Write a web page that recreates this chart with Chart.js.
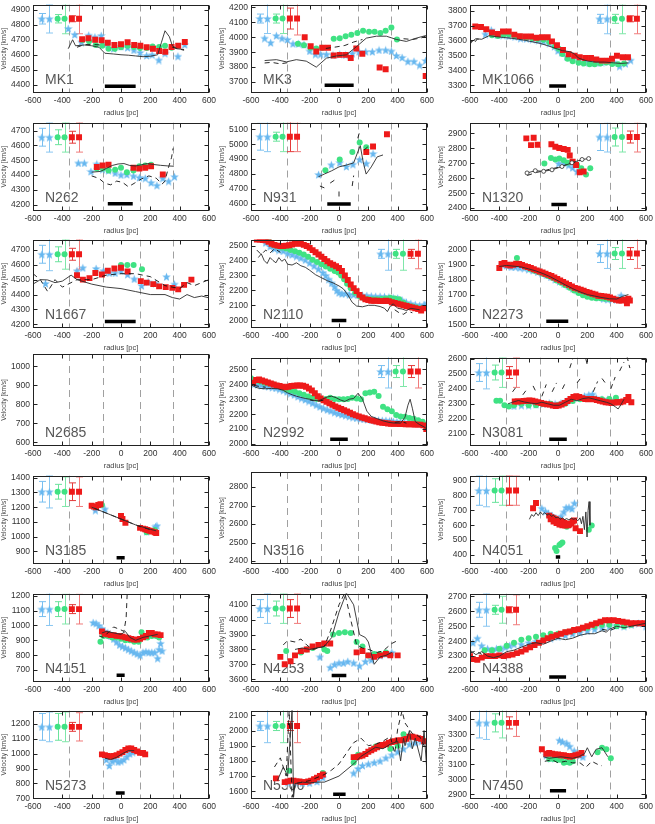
<!DOCTYPE html>
<html>
<head>
<meta charset="utf-8">
<script src="https://cdn.jsdelivr.net/npm/chart.js@4"></script>
<style>
  body { margin: 0; background: #fff; }
  #grid { position: relative; width: 655px; height: 824px; overflow: hidden; }
  #grid canvas { position: absolute; }
</style>
</head>
<body>
<div id="grid"></div>
<script>
// where the reference error bars sit (pc), left or right group
const errXLeft = [-540, -488, -432, -385, -335, -286];
const errXRight = [283, 334, 386, 436, 488, 538];
// grey dashed guides
const guideX = [-355, -125, 130, 355];

// ---- MK1
const mk1Blue = [[-360,4775],[-315,4735],[-270,4685],[-220,4730],[-178,4718],[-135,4728],[-95,4672],[-50,4642],[0,4655],[45,4648],[88,4632],[130,4615],[175,4595],[212,4600],[258,4565],[300,4610],[388,4590],[435,4668]];
const mk1Green = [[-262,4698],[-218,4690],[-172,4665],[-128,4660],[-85,4640],[-42,4640],[0,4650],[45,4660],[88,4652],[130,4645],[175,4645],[215,4655],[260,4652],[300,4660],[345,4647]];
const mk1Red = [[-265,4703],[-222,4710],[-176,4700],[-132,4697],[-90,4680],[-45,4665],[0,4670],[45,4683],[90,4665],[132,4660],[175,4650],[218,4640],[260,4625],[302,4620],[345,4652],[390,4660],[435,4685]];
const mk1Line = [[-360,4640],[-330,4700],[-310,4660],[-250,4665],[-200,4660],[-150,4650],[-110,4610],[-50,4605],[0,4600],[50,4597],[100,4592],[150,4587],[200,4590],[250,4600],[275,4680],[300,4760],[330,4720],[350,4660],[380,4640],[430,4635]];
const mk1Dash = [[-300,4650],[-250,4668],[-190,4668],[-130,4665],null,[350,4650],[390,4640],[430,4630]];
const mk1Bar = [-110, 100, 4390];
const mk1Err = [4840, 35, 95, 28, 100, 20, 100];

// ---- MK3
const mk3Blue = [[-507,3994],[-466,3964],[-427,4011],[-389,3994],[-352,3985],[-314,3957],[-275,3957],[-239,3951],[-200,3908],[-161,3887],[-125,3887],[-86,3887],[-41,3882],[5,3887],[45,3882],[91,3893],[136,3904],[182,3904],[227,3904],[273,3915],[318,3915],[357,3908],[391,3878],[430,3865],[470,3839],[511,3839],[550,3814],[591,3844]];
const mk3Green = [[-280,3957],[-239,3946],[-195,3930],[-155,3925],[-114,3930],[-36,3990],[5,3994],[45,4007],[84,4016],[125,4028],[164,4043],[205,4037],[243,4037],[282,4028],[318,4043],[357,4065],[395,3985]];
const mk3Red = [[-234,4000],[-193,3940],[-155,3904],[-114,3930],[-75,3930],[-36,3878],[5,3882],[45,3882],[80,3861],[118,3925],[159,3889],[277,3797],[318,3786],[591,3741]];
const mk3Line = [[-507,3844],[-427,3850],[-359,3835],[-291,3850],[-223,3840],[-155,3800],[-86,3860],[-18,3875],[50,3882],[118,3936],[186,3994],[255,4007],[323,4007],[391,3985],[459,3972],[527,3994],[591,4011]];
const mk3Dash = [[-507,3828],[-460,3832],[-400,3822],[-350,3830],null,[-90,3925],[-20,3935],[40,3945],[100,3968],[160,3985],null,[440,3990],[500,3985],[560,3995],[595,4010]];
const mk3Bar = [-98, 100, 3679];
const mk3Err = [4125, 30, 100, 30, 100, 70, 110];

// ---- MK1066
const mk1066Blue = [[-495,3643],[-455,3670],[-415,3638],[-375,3635],[-335,3630],[-295,3625],[-255,3615],[-215,3612],[-175,3608],[-135,3602],[-100,3595],[-60,3582],[-25,3560],[0,3532],[25,3520],[60,3492],[100,3480],[140,3470],[180,3455],[220,3452],[260,3450],[300,3455],[340,3458],[380,3455],[420,3428],[460,3445],[495,3468]];
const mk1066Green = [[-450,3635],[-410,3630],[-370,3640],[-335,3642],[-295,3632],[-255,3625],[-215,3620],[-175,3615],[-140,3610],[-100,3605],[-60,3590],[-20,3562],[5,3545],[30,3510],[65,3478],[100,3460],[140,3450],[175,3445],[215,3440],[250,3440],[290,3445],[330,3452],[370,3442],[410,3440],[450,3445]];
const mk1066Red = [[-564,3693],[-525,3690],[-489,3675],[-450,3654],[-411,3643],[-375,3660],[-336,3660],[-298,3639],[-261,3628],[-223,3626],[-184,3626],[-148,3618],[-109,3622],[-70,3622],[-41,3594],[-7,3568],[34,3536],[73,3508],[111,3497],[148,3487],[186,3482],[225,3482],[261,3472],[300,3465],[339,3465],[368,3478],[402,3497],[441,3487],[477,3487]];
const mk1066Line = [[-590,3590],[-560,3612],[-520,3608],[-470,3632],[-420,3625],[-370,3620],[-320,3615],[-270,3608],[-220,3600],[-170,3590],[-120,3580],[-70,3565],[-20,3548],[30,3532],[80,3525],[110,3512],[140,3482],[200,3462],[260,3455],[320,3455],[380,3450],[430,3446],[480,3450]];
const mk1066Dash = [[-600,3572],[-585,3600],[-570,3585],[-550,3610],[-520,3605]];
const mk1066Bar = [-60, 55, 3295];
const mk1066Err = [3745, 30, 100, 30, 100, 20, 100];

// ---- N262
const n262Blue = [[-291,4482],[-250,4482],[-205,4425],[-165,4475],[-125,4440],[-85,4432],[-40,4415],[0,4402],[40,4405],[85,4395],[125,4385],[165,4380],[205,4350],[245,4332],[285,4380],[325,4360],[365,4390]];
const n262Green = [[-165,4445],[-125,4445],[-85,4432],[-40,4437],[0,4450],[40,4420],[85,4432],[125,4460],[165,4465],[205,4470]];
const n262Red = [[-165,4455],[-125,4465],[-85,4470],[85,4450],[125,4445],[165,4450],[205,4460],[285,4405]];
const n262Line = [[-200,4420],[-140,4425],[-100,4445],[-60,4465],[-20,4475],[20,4478],[60,4465],[100,4462],[140,4470],[180,4478],[220,4472],[270,4466],[320,4462],[360,4460]];
const n262Dash = [[-200,4395],[-150,4378],[-110,4345],[-70,4335],[-30,4360],[10,4352],[50,4322],[90,4345],[140,4375],[190,4395],[240,4380],[280,4340],[300,4360],[320,4440],[345,4520],[355,4580]];
const n262Bar = [-90, 80, 4207];
const n262Err = [4655, 60, 100, 50, 100, 40, 100];

// ---- N931
const n931Blue = [[-139,4797],[-52,4862],[5,4877],[50,4851],[95,4866],[141,4898],[186,4872],[232,4937]];
const n931Green = [[-93,4825],[5,4898],[91,4948],[141,5012],[186,4980]];
const n931Red = [[186,4948],[232,4984],[327,5066]];
const n931Line = [[-140,4782],[-100,4800],[-50,4822],[0,4848],[50,4860],[100,4875],[125,4940],[145,4990],[165,4880],[185,4800],[220,4848],[260,4915],[300,4928]];
const n931Dash = [[-130,4720],[-100,4708],null,[-60,4740],[-30,4760],null,[0,4650],[0,4700],null,[90,4720],[100,4790],null,[128,5040],[140,5080],null,[170,4960],[200,4985]];
const n931Bar = [-80, 80, 4600];
const n931Err = [5050, 90, 100, 30, 100, 100, 100];

// ---- N1320
const n1320Blue = [[5,2699],[39,2703],[73,2688],[100,2671],[130,2646]];
const n1320Green = [[-93,2699],[-48,2735],[-18,2725],[9,2731],[39,2720],[66,2703],[95,2710],[130,2688],[159,2667],[191,2624],[220,2667]];
const n1320Red = [[-216,2866],[-184,2821],[-166,2870],[-139,2823],[-45,2827],[-18,2810],[9,2802],[39,2795],[66,2789],[80,2752],[100,2710],[123,2688],[148,2640],[175,2645]];
const n1320Line = [[-211,2635],[-155,2650],[-98,2646],[-41,2656],[27,2678],[95,2703],[164,2725],[209,2731]];
const n1320Dash = [[-210,2618],[-150,2638],[-100,2648],[-50,2662],[0,2672],[50,2688],[100,2702],[150,2718],[200,2728]];
const n1320Bar = [-45, 60, 2425];
const n1320Err = [2875, 90, 100, 60, 100, 40, 100];

// ---- N1667
const n1667Blue = [[-515,4475],[-300,4560],[-260,4580],[-170,4575],[-120,4560],[-80,4545],[-40,4545],[0,4560],[45,4535],[90,4505],[140,4460],[185,4485],[235,4475],[310,4520],[365,4470]];
const n1667Green = [[0,4598],[43,4598],[86,4598],[143,4570]];
const n1667Red = [[-300,4530],[-260,4500],[-215,4510],[-175,4545],[-130,4535],[-90,4560],[-45,4575],[0,4580],[45,4555],[135,4490],[175,4480],[220,4470],[260,4455],[305,4450],[350,4445],[390,4435],[430,4465],[480,4500]];
const n1667Line = [[-600,4470],[-550,4500],[-500,4498],[-450,4480],[-400,4490],[-340,4530],[-300,4500],[-200,4470],[-100,4450],[0,4440],[100,4420],[200,4400],[300,4400],[350,4380],[400,4370],[450,4400],[500,4380],[550,4390],[600,4378]];
const n1667Dash = [[-600,4540],[-550,4500],[-500,4420],[-450,4500],[-400,4450],[-300,4500],[-200,4500],[-100,4530],[0,4540],[100,4540],[200,4520],[300,4460],[400,4440],[450,4480],[500,4460],[550,4480],[600,4500]];
const n1667Bar = [-110, 100, 4220];
const n1667Err = [4670, 60, 110, 50, 100, 40, 100];

// ---- N2110
const n2110Blue = [[-500,2520],[-470,2495],[-440,2480],[-410,2470],[-380,2465],[-350,2450],[-320,2440],[-290,2430],[-260,2418],[-230,2405],[-200,2385],[-170,2365],[-140,2345],[-110,2320],[-90,2300],[-70,2275],[-50,2250],[-30,2225],[-15,2200],[0,2185],[20,2178],[45,2180],[70,2172],[100,2172],[130,2170],[160,2168],[190,2165],[220,2162],[250,2160],[280,2160],[310,2158],[340,2155],[370,2150],[400,2148],[430,2135],[460,2120],[490,2112],[520,2105],[550,2100],[580,2105],[600,2115]];
const n2110Green = [[-480,2540],[-450,2505],[-420,2495],[-390,2488],[-360,2480],[-330,2470],[-300,2462],[-270,2452],[-240,2440],[-210,2425],[-180,2405],[-150,2390],[-120,2375],[-90,2360],[-60,2345],[-30,2330],[-5,2320],[15,2300],[35,2275],[55,2245],[80,2215],[110,2185],[140,2160],[170,2148],[200,2142],[230,2140],[260,2140],[290,2142],[320,2145],[350,2150],[380,2145],[410,2140],[440,2118],[470,2100],[500,2092],[530,2085],[560,2080]];
const n2110Red = [[-560,2540],[-540,2540],[-520,2538],[-500,2535],[-480,2525],[-460,2512],[-440,2505],[-420,2500],[-400,2498],[-380,2498],[-360,2500],[-340,2502],[-320,2508],[-300,2512],[-280,2515],[-260,2512],[-240,2505],[-220,2498],[-200,2485],[-180,2470],[-160,2455],[-140,2440],[-120,2425],[-100,2410],[-80,2395],[-60,2382],[-40,2372],[-20,2362],[0,2350],[20,2330],[40,2300],[60,2270],[80,2240],[100,2215],[120,2195],[140,2170],[160,2152],[180,2140],[200,2135],[220,2130],[240,2130],[260,2130],[280,2128],[300,2128],[320,2130],[340,2128],[360,2120],[380,2115],[400,2110],[420,2105],[440,2100],[460,2095],[480,2090],[500,2085],[520,2080],[540,2075],[560,2065],[580,2080]];
const n2110Line = [[-550,2420],[-530,2445],[-510,2400],[-490,2380],[-470,2420],[-450,2400],[-430,2385],[-410,2420],[-390,2395],[-370,2410],[-350,2375],[-320,2370],[-290,2385],[-260,2365],[-230,2355],[-200,2335],[-160,2305],[-120,2285],[-80,2265],[-40,2250],[0,2230],[30,2210],[60,2170],[90,2120],[120,2095],[160,2090],[200,2100],[240,2100],[280,2092],[310,2080],[330,2058],[350,2095],[370,2110],[400,2080],[430,2075],[460,2065],[490,2080],[520,2075],[550,2070]];
const n2110Dash = [[-560,2470],[-530,2440],[-500,2470],[-470,2450],[-440,2480],[-400,2455],null,[380,2070],[410,2050],[440,2040],[470,2060],[500,2050]];
const n2110Bar = [-50, 50, 1998];
const n2110Err = [2445, 30, 110, 30, 110, 30, 100];

// ---- N2273
const n2273Blue = [[-380,1900],[-350,1895],[-320,1885],[-290,1885],[-260,1880],[-230,1878],[-200,1870],[-170,1862],[-140,1852],[-110,1842],[-80,1832],[-50,1818],[-20,1802],[10,1788],[40,1772],[70,1758],[100,1742],[130,1730],[160,1718],[190,1705],[220,1698],[250,1690],[280,1682],[310,1672],[340,1668],[370,1670],[400,1670],[430,1695]];
const n2273Green = [[-280,1945],[-250,1900],[-220,1885],[-190,1872],[-160,1860],[-130,1850],[-100,1838],[-70,1825],[-40,1812],[-10,1795],[20,1780],[50,1762],[80,1745],[110,1728],[140,1710],[170,1695],[200,1685],[230,1678],[260,1675],[290,1675],[320,1672],[350,1670],[380,1668],[410,1665]];
const n2273Red = [[-400,1878],[-385,1905],[-365,1912],[-345,1900],[-325,1895],[-305,1900],[-285,1907],[-265,1905],[-245,1898],[-225,1890],[-205,1885],[-185,1878],[-165,1870],[-145,1862],[-125,1855],[-105,1848],[-85,1840],[-65,1832],[-45,1825],[-25,1815],[-5,1805],[15,1795],[35,1785],[55,1775],[75,1765],[95,1755],[115,1745],[135,1740],[155,1732],[175,1725],[195,1718],[215,1712],[235,1705],[255,1700],[275,1692],[295,1690],[315,1688],[335,1685],[355,1680],[375,1672],[395,1665],[415,1660],[435,1660],[455,1665],[470,1642],[480,1672],[490,1660]];
const n2273Line = [[-400,1888],[-350,1895],[-300,1890],[-250,1885],[-200,1872],[-150,1858],[-100,1840],[-50,1818],[0,1792],[50,1765],[100,1740],[150,1718],[200,1700],[250,1690],[300,1680],[350,1672],[400,1670],[440,1688],[480,1700]];
const n2273Dash = [];
const n2273Bar = [-80, 70, 1521];
const n2273Err = [1975, 60, 100, 40, 100, 40, 100];

// ---- N2992
const n2992Blue = [[-580,2402],[-555,2398],[-530,2395],[-505,2390],[-480,2385],[-455,2380],[-430,2375],[-405,2368],[-380,2360],[-355,2350],[-330,2340],[-305,2330],[-280,2318],[-255,2308],[-230,2298],[-205,2288],[-180,2275],[-155,2262],[-130,2250],[-105,2240],[-80,2230],[-55,2222],[-30,2212],[-5,2205],[20,2198],[45,2192],[70,2186],[95,2180],[120,2175],[145,2170],[170,2168],[195,2165],[220,2162],[245,2160],[270,2160],[295,2158],[320,2158],[345,2155],[370,2152],[395,2150],[420,2148],[445,2146],[470,2145],[495,2142],[520,2140],[545,2152],[570,2140],[595,2118]];
const n2992Green = [[-600,2440],[-570,2425],[-540,2418],[-510,2410],[-480,2405],[-450,2400],[-420,2390],[-390,2378],[-360,2365],[-330,2358],[-300,2350],[-270,2340],[-240,2330],[-210,2318],[-180,2310],[-150,2302],[-120,2300],[-90,2302],[-60,2310],[-30,2302],[0,2300],[30,2300],[60,2302],[90,2310],[120,2305],[150,2300],[180,2340],[210,2345],[240,2350],[270,2322],[300,2250],[330,2232],[360,2220],[390,2195],[420,2185],[450,2182],[480,2175],[510,2170],[540,2160],[570,2150],[600,2130]];
const n2992Red = [[-585,2410],[-565,2428],[-545,2432],[-525,2425],[-505,2418],[-485,2412],[-465,2405],[-445,2398],[-425,2392],[-405,2388],[-385,2383],[-365,2380],[-345,2383],[-325,2388],[-305,2390],[-285,2392],[-265,2392],[-245,2390],[-225,2383],[-205,2372],[-185,2358],[-165,2340],[-145,2320],[-125,2305],[-105,2292],[-85,2282],[-65,2272],[-45,2262],[-25,2252],[-5,2243],[15,2235],[35,2226],[55,2218],[75,2210],[95,2200],[115,2192],[135,2185],[155,2178],[175,2172],[195,2166],[215,2160],[235,2155],[255,2150],[275,2145],[295,2142],[315,2140],[335,2138],[355,2136],[375,2135],[395,2135],[415,2134],[435,2134],[455,2133],[475,2132],[495,2132],[515,2131],[535,2130],[555,2130],[575,2125],[595,2100]];
const n2992Line = [[-600,2398],[-570,2380],[-540,2372],[-500,2370],[-460,2372],[-420,2370],[-380,2360],[-350,2342],[-320,2330],[-290,2320],[-260,2312],[-230,2305],[-200,2300],[-170,2292],[-140,2290],[-110,2302],[-80,2315],[-50,2320],[-20,2310],[10,2295],[40,2285],[70,2300],[100,2305],[130,2340],[160,2300],[190,2220],[220,2185],[260,2170],[300,2155],[340,2145],[380,2140],[420,2140],[450,2180],[470,2260],[485,2300],[500,2240],[520,2150],[550,2130],[580,2115],[600,2100]];
const n2992Dash = [[-580,2392],[-540,2385],[-500,2380],null,[-200,2295],[-150,2285],[-100,2295],null,[380,2145],[420,2150],[460,2140]];
const n2992Bar = [-60, 60, 2032];
const n2992Err = [2485, 40, 110, 40, 100, 40, 110];

// ---- N3081
const n3081Blue = [[-300,2285],[-250,2290],[-200,2290],[-150,2295],[-100,2300],[-60,2305],[-20,2300],[20,2305],[60,2318],[100,2330],[140,2342],[180,2352],[210,2360],[235,2365],[260,2340],[300,2330],[340,2330],[380,2322],[410,2318]];
const n3081Green = [[-420,2320],[-395,2320],[-365,2290],[-335,2282],[-300,2290],[-250,2300],[-200,2290],[-150,2290],[-100,2298],[-50,2300],[0,2292],[50,2300],[100,2318],[150,2330],[200,2332],[250,2330],[300,2330],[350,2332],[395,2340]];
const n3081Red = [[-295,2315],[-275,2315],[-255,2316],[-235,2318],[-215,2320],[-195,2322],[-175,2320],[-155,2315],[-135,2310],[-115,2305],[-95,2300],[-75,2297],[-55,2294],[-35,2288],[-15,2285],[5,2288],[25,2295],[45,2305],[65,2318],[85,2332],[105,2345],[125,2350],[145,2345],[165,2338],[185,2332],[205,2330],[225,2332],[245,2330],[265,2325],[285,2320],[305,2315],[325,2310],[345,2308],[365,2305],[385,2308],[405,2310],[425,2310],[445,2315],[465,2325],[480,2345],[500,2310]];
const n3081Line = [[-340,2300],[-310,2310],[-270,2322],[-230,2312],[-190,2305],[-150,2300],[-110,2310],[-70,2300],[-30,2290],[10,2290],[50,2310],[90,2330],[130,2320],[170,2335],[210,2340],[250,2330],[290,2320],[330,2310],[360,2300],[390,2280],[410,2265],[430,2295],[450,2330]];
const n3081Dash = [[-310,2380],[-280,2420],null,[-240,2360],[-210,2400],null,[-170,2420],[-150,2380],null,[-110,2350],[-80,2430],null,[-40,2380],[-10,2440],null,[30,2400],[50,2440],null,[80,2540],[100,2600],null,[130,2440],[160,2480],null,[190,2600],[200,2560],null,[240,2380],[270,2450],null,[300,2470],[330,2430],null,[360,2400],[390,2480],null,[420,2520],[450,2580],null,[470,2620],[490,2540]];
const n3081Bar = [-60, 60, 2061];
const n3081Err = [2510, 60, 110, 50, 100, 40, 100];

// ---- N3185
const n3185Blue = [[-175,1180],[-110,1188],[175,1035],[235,1068],[245,1075]];
const n3185Green = [[-130,1215],[175,1030],[230,1045]];
const n3185Red = [[-200,1210],[-185,1205],[-170,1200],[-155,1215],[-140,1220],[0,1140],[10,1120],[30,1095],[130,1060],[150,1055],[165,1050],[180,1045],[195,1040],[210,1035],[230,1030],[240,1025]];
const n3185Line = [[-200,1200],[-100,1160],[0,1120],[100,1080],[200,1050],[240,1040]];
const n3185Dash = [[-180,1192],[-80,1152],[20,1112],[120,1072],[220,1042]];
const n3185Bar = [-30, 25, 857];
const n3185Err = [1305, 70, 110, 50, 100, 60, 100];

// ---- N4051
const n4051Blue = [[-110,715],[-85,695],[-65,680],[-40,665],[20,660],[40,690],[55,720],[75,722],[95,712],[112,750]];
const n4051Green = [[-20,445],[-10,425],[10,465],[20,475],[30,482],[60,590],[210,570],[230,598]];
const n4051Red = [[-170,715],[-150,750],[-60,665],[-45,655],[-30,648],[-15,640],[0,632],[15,628],[30,622],[45,615],[60,608],[75,605],[90,612],[100,625],[110,632],[120,580],[150,560],[-50,640],[-30,625],[-10,615],[10,605],[30,600],[50,598],[70,600]];
const n4051Line = [[-195,640],[-180,672],[-165,660],[-150,685],[-135,665],[-120,690],[-105,672],[-90,685],[-75,668],[-60,678],[-45,660],[-30,668],[-15,650],[0,655],[15,640],[30,650],[45,638],[60,645],[75,635],[90,648],[105,640],[120,645],[135,630],[150,650],[160,610],[170,660],[180,570],[190,690],[198,520],[205,700],[212,760],[218,600]];
const n4051Dash = [];
const n4051Bar = [-15, 15, 385];
const n4051Err = [835, 100, 110, 80, 100, 100, 100];

// ---- N4151
const n4151Blue = [[-190,1020],[-170,1015],[-150,1000],[-130,980],[-110,960],[-90,950],[-70,930],[-50,910],[-30,890],[-10,870],[10,860],[30,850],[50,840],[70,830],[90,820],[110,810],[130,800],[150,820],[170,825],[190,820],[210,820],[230,820],[250,780],[260,840],[270,880],[280,830]];
const n4151Green = [[-140,890],[-120,930],[-90,930],[-60,920],[-30,920],[0,910],[30,900],[60,900],[90,890],[120,890],[140,955],[180,920],[210,930],[240,930],[260,920]];
const n4151Red = [[-130,960],[-110,945],[-90,940],[-70,935],[-50,935],[-30,930],[-10,930],[10,925],[30,920],[50,915],[70,910],[90,905],[110,905],[130,910],[150,920],[170,930],[190,950],[210,950],[230,940],[250,940],[270,935]];
const n4151Line = [[-130,950],[-100,960],[-50,950],[0,940],[30,960],[60,920],[100,900],[150,920],[200,930],[250,940]];
const n4151Dash = [[-150,930],[-120,920],[-80,960],[-50,990],[0,970],[20,960],[35,1050],[42,1210]];
const n4151Bar = [-30, 25, 665];
const n4151Err = [1110, 50, 110, 50, 100, 30, 100];

// ---- N4253
const n4253Blue = [[-130,3750],[-60,3680],[-30,3700],[0,3710],[30,3710],[60,3720],[100,3710],[140,3690],[180,3720],[220,3730],[280,3760],[320,3770],[360,3780]];
const n4253Green = [[-360,3790],[-260,3780],[-220,3800],[-180,3810],[-100,3800],[-80,3790],[-40,3900],[0,3910],[40,3915],[80,3910],[120,3850],[160,3820],[200,3760],[240,3770],[280,3770],[320,3780]];
const n4253Red = [[-400,3750],[-370,3700],[-330,3720],[-300,3760],[-260,3790],[-220,3800],[-180,3820],[-140,3830],[-100,3840],[-60,3840],[120,3780],[160,3790],[200,3760],[240,3750],[280,3760],[320,3770],[350,3760],[400,3760]];
const n4253Line = [[-300,3800],[-250,3810],[-200,3800],[-100,3820],[-50,3880],[0,4050],[50,4180],[100,4100],[140,3900],[180,3880],[200,3850],[240,3700],[280,3750],[320,3760],[360,3780]];
const n4253Dash = [[-380,3830],[-350,3860],[-300,3850],[-260,3870],[-220,3830],[-180,3800],[-100,3820],[-60,3920],[0,4100],[40,4180],[80,4000],[120,3830],[160,3810],[200,3800],[260,3780],[300,3790],[360,3840],[400,3860]];
const n4253Bar = [-50, 50, 3625];
const n4253Err = [4075, 60, 100, 50, 100, 60, 100];

// ---- N4388
const n4388Blue = [[-580,2390],[-550,2420],[-520,2370],[-480,2350],[-450,2340],[-420,2350],[-390,2350],[-360,2360],[-330,2370],[-300,2380],[-250,2380],[-200,2390],[-150,2400],[-100,2410],[-50,2420],[0,2430],[50,2440],[100,2450],[150,2460],[200,2470],[250,2480],[300,2490],[350,2500],[400,2505],[450,2500],[500,2510],[550,2520],[600,2500]];
const n4388Green = [[-500,2340],[-450,2340],[-400,2350],[-350,2370],[-300,2390],[-250,2410],[-200,2420],[-150,2430],[-100,2440],[-50,2450],[0,2450],[50,2460],[100,2470],[150,2480],[200,2490],[250,2500],[300,2510],[350,2510],[400,2500],[450,2500],[500,2510]];
const n4388Red = [[-600,2300],[-580,2280],[-550,2275],[-520,2290],[-490,2300],[-460,2300],[-430,2300],[-400,2305],[-370,2300],[-340,2305],[-310,2310],[-280,2320],[-250,2330],[-220,2345],[-190,2360],[-160,2375],[-130,2390],[-100,2405],[-70,2420],[-40,2430],[-10,2440],[20,2450],[50,2460],[80,2465],[110,2475],[140,2480],[170,2490],[200,2500],[230,2510],[260,2520],[290,2530],[320,2540],[350,2540],[380,2540],[410,2535],[440,2530],[470,2525],[500,2520],[530,2520],[560,2520],[590,2520]];
const n4388Line = [[-600,2340],[-560,2310],[-520,2330],[-480,2300],[-440,2290],[-400,2300],[-350,2330],[-300,2340],[-250,2360],[-200,2380],[-150,2390],[-100,2380],[-50,2400],[0,2420],[50,2410],[100,2420],[150,2440],[200,2450],[250,2450],[300,2470],[330,2460],[350,2480],[400,2500],[450,2490],[500,2500],[550,2510],[600,2520]];
const n4388Dash = [[-600,2320],[-560,2335],[-520,2312],null,[300,2480],[350,2470],[400,2490]];
const n4388Bar = [-60, 55, 2160];
const n4388Err = [2610, 50, 110, 30, 90, 20, 100];

// ---- N5273
const n5273Blue = [[-100,960],[-80,920],[-60,950],[-40,960],[-20,945],[0,950],[20,960],[40,980],[60,1000],[80,1010]];
const n5273Green = [];
const n5273Red = [[-130,995],[-110,990],[-90,985],[-70,980],[-50,985],[-30,990],[-10,1000],[10,1010],[30,1025],[50,1035],[70,1035],[90,1025],[110,1015],[130,1005],[150,1005],[165,995]];
const n5273Line = [[-110,970],[-70,960],[-30,975],[10,1000],[50,1020],[90,1020]];
const n5273Dash = [];
const n5273Bar = [-35, 25, 735];
const n5273Err = [1180, 90, 100, 90, 100, 30, 95];

// ---- N5506
const n5506Blue = [[-350,1660],[-300,1660],[-250,1655],[-200,1655],[-150,1665],[-110,1690],[100,1720],[130,1750],[160,1770],[200,1780],[240,1790],[280,1800],[320,1820],[360,1840],[400,1860],[440,1880],[480,1910],[520,1920],[560,1930]];
const n5506Green = [[-340,1735],[-110,1720],[100,1790],[130,1840],[250,1895],[350,1880],[400,1900],[440,1975]];
const n5506Red = [[-430,1685],[-370,1660],[-350,1665],[-330,1670],[-310,1670],[-290,1665],[-270,1665],[-250,1660],[-230,1660],[-210,1665],[-190,1670],[-170,1680],[-150,1690],[-130,1700],[-110,1710],[100,1825],[120,1825],[140,1830],[160,1835],[180,1845],[200,1860],[220,1870],[240,1880],[260,1890],[280,1900],[300,1905],[320,1910],[340,1920],[360,1925],[380,1930],[400,1935],[420,1935],[440,1940],[460,1945],[480,1960],[500,1960],[520,1955],[540,1950],[560,1945],[580,1930]];
const n5506Line = [[-420,1670],[-380,1760],[-350,1700],[-320,2140],[-310,1560],[-300,1650],[-250,1660],[-200,1655],[-150,1660],[-100,1660],[0,1700],[100,1780],[150,1830],[200,1860],[250,1890],[300,1880],[350,1910],[400,1930],[420,1800],[440,1950],[450,1900],[480,2000],[500,1880],[520,1950],[560,1800],[580,2000],[600,1720]];
const n5506Dash = [[-440,1760],[-400,1820],[-360,1700],[-340,2130],[-320,1560],[-300,1650],[-200,1670],[-100,1710],[-50,1740],[0,1780],[50,1850],[100,1920],[150,1950],[200,1900],[250,1910],[300,1930],[350,1960],[380,1850],[400,2010],[430,2130],[450,2050],[500,1980],[550,1960],[580,1900]];
const n5506Bar = [-40, 45, 1580];
const n5506Err = [2030, 30, 110, 30, 110, 30, 110];

// ---- N7450
const n7450Blue = [[-80,3160],[-50,3140],[-20,3150],[0,3150],[20,3150],[40,3150],[10,3260],[30,3250],[60,3240],[80,3220],[110,3190],[150,3160],[170,3150]];
const n7450Green = [[-60,3135],[-30,3135],[0,3130],[20,3130],[40,3110],[60,3115],[80,3110],[100,3120],[270,3180],[300,3210],[330,3200],[360,3140]];
const n7450Red = [[-110,3200],[-80,3170],[-60,3175],[-40,3170],[-20,3165],[0,3165],[20,3160],[40,3160],[60,3155],[80,3150],[100,3155],[120,3160],[140,3165],[160,3175]];
const n7450Line = [[-100,3150],[-60,3140],[-20,3145],[20,3150],[60,3145],[100,3140],[140,3150],[180,3170],[200,3210],[230,3150],[260,3200],[300,3210],[340,3150]];
const n7450Dash = [[-90,3120],[-40,3130],[0,3110],[50,3120],[100,3110],[150,3110],[190,3080],[230,3120],[270,3100],[300,3090]];
const n7450Bar = [-55, 55, 2925];
const n7450Err = [3375, 100, 110, 60, 100, 40, 90];

const panels = [
  { name: 'MK1', yMin: 4345, yMax: 4935, side: 'left', blue: mk1Blue, green: mk1Green, red: mk1Red, line: mk1Line, dash: mk1Dash, bar: mk1Bar, err: mk1Err },
  { name: 'MK3', yMin: 3627, yMax: 4219, side: 'left', blue: mk3Blue, green: mk3Green, red: mk3Red, line: mk3Line, dash: mk3Dash, bar: mk3Bar, err: mk3Err },
  { name: 'MK1066', yMin: 3248, yMax: 3841, side: 'right', blue: mk1066Blue, green: mk1066Green, red: mk1066Red, line: mk1066Line, dash: mk1066Dash, bar: mk1066Bar, err: mk1066Err },
  { name: 'N262', yMin: 4159, yMax: 4754, side: 'left', blue: n262Blue, green: n262Green, red: n262Red, line: n262Line, dash: n262Dash, bar: n262Bar, err: n262Err },
  { name: 'N931', yMin: 4553, yMax: 5145, side: 'left', blue: n931Blue, green: n931Green, red: n931Red, line: n931Line, dash: n931Dash, bar: n931Bar, err: n931Err },
  { name: 'N1320', yMin: 2381, yMax: 2970, side: 'right', blue: n1320Blue, green: n1320Green, red: n1320Red, line: n1320Line, dash: n1320Dash, bar: n1320Bar, err: n1320Err, lineMarks: true },
  { name: 'N1667', yMin: 4176, yMax: 4769, side: 'left', blue: n1667Blue, green: n1667Green, red: n1667Red, line: n1667Line, dash: n1667Dash, bar: n1667Bar, err: n1667Err },
  { name: 'N2110', yMin: 1948, yMax: 2541, side: 'right', blue: n2110Blue, green: n2110Green, red: n2110Red, line: n2110Line, dash: n2110Dash, bar: n2110Bar, err: n2110Err },
  { name: 'N2273', yMin: 1476, yMax: 2069, side: 'right', blue: n2273Blue, green: n2273Green, red: n2273Red, line: n2273Line, dash: n2273Dash, bar: n2273Bar, err: n2273Err },
  { name: 'N2685', yMin: 580, yMax: 1065 },
  { name: 'N2992', yMin: 1987, yMax: 2579, side: 'right', blue: n2992Blue, green: n2992Green, red: n2992Red, line: n2992Line, dash: n2992Dash, bar: n2992Bar, err: n2992Err },
  { name: 'N3081', yMin: 2016, yMax: 2611, side: 'left', blue: n3081Blue, green: n3081Green, red: n3081Red, line: n3081Line, dash: n3081Dash, bar: n3081Bar, err: n3081Err },
  { name: 'N3185', yMin: 815, yMax: 1415, side: 'left', blue: n3185Blue, green: n3185Green, red: n3185Red, line: n3185Line, dash: n3185Dash, bar: n3185Bar, err: n3185Err },
  { name: 'N3516', yMin: 2384, yMax: 2881 },
  { name: 'N4051', yMin: 337, yMax: 937, side: 'left', blue: n4051Blue, green: n4051Green, red: n4051Red, line: n4051Line, dash: n4051Dash, bar: n4051Bar, err: n4051Err },
  { name: 'N4151', yMin: 620, yMax: 1215, side: 'left', blue: n4151Blue, green: n4151Green, red: n4151Red, line: n4151Line, dash: n4151Dash, bar: n4151Bar, err: n4151Err },
  { name: 'N4253', yMin: 3581, yMax: 4176, side: 'left', blue: n4253Blue, green: n4253Green, red: n4253Red, line: n4253Line, dash: n4253Dash, bar: n4253Bar, err: n4253Err },
  { name: 'N4388', yMin: 2127, yMax: 2719, side: 'left', blue: n4388Blue, green: n4388Green, red: n4388Red, line: n4388Line, dash: n4388Dash, bar: n4388Bar, err: n4388Err },
  { name: 'N5273', yMin: 695, yMax: 1290, side: 'left', blue: n5273Blue, green: n5273Green, red: n5273Red, line: n5273Line, dash: n5273Dash, bar: n5273Bar, err: n5273Err },
  { name: 'N5506', yMin: 1549, yMax: 2132, side: 'left', blue: n5506Blue, green: n5506Green, red: n5506Red, line: n5506Line, dash: n5506Dash, bar: n5506Bar, err: n5506Err },
  { name: 'N7450', yMin: 2870, yMax: 3457, side: 'left', blue: n7450Blue, green: n7450Green, red: n7450Red, line: n7450Line, dash: n7450Dash, bar: n7450Bar, err: n7450Err }
];

const BLUE = '#67b7ef', GREEN = '#3fe283', RED = '#ee1a1a';
const errColors = ['#79bff0', '#8ac7f1', '#6be39c', '#7fe7a9', '#e43a3a', '#f07c7c'];
const FONT = '"Liberation Sans", Arial, sans-serif';

function pts(a) {
  return (a || []).map(p => p ? { x: p[0], y: p[1] } : { x: null, y: null });
}

// filled five-point star used as the point style of the blue series
function makeStar(size, color) {
  const c = document.createElement('canvas');
  c.width = c.height = size;
  const g = c.getContext('2d');
  g.fillStyle = color;
  g.beginPath();
  for (let i = 0; i < 10; i++) {
    const r = i % 2 ? size * 0.21 : size / 2;
    const ang = -Math.PI / 2 + i * Math.PI / 5;
    const px = size / 2 + r * Math.cos(ang), py = size / 2 + 0.5 + r * Math.sin(ang);
    if (i === 0) g.moveTo(px, py); else g.lineTo(px, py);
  }
  g.closePath();
  g.fill();
  return c;
}
const star = makeStar(9, BLUE);

// round hundreds only, like the reference axes
function hundreds(s) {
  const t = [];
  for (let v = Math.ceil(s.min / 100) * 100; v <= s.max; v += 100) t.push({ value: v });
  s.ticks = t;
}

const decor = {
  id: 'decor',
  beforeDatasetsDraw(chart, args, o) {
    const { ctx, chartArea: a, scales: { x, y } } = chart;
    ctx.save();
    ctx.beginPath();
    ctx.rect(a.left, a.top, a.width, a.height);
    ctx.clip();
    // panel name
    ctx.font = '14px ' + FONT;
    ctx.fillStyle = '#575757';
    ctx.textBaseline = 'alphabetic';
    ctx.fillText(o.name, a.left + 12, a.bottom - 9);
    // grey dashed guides
    ctx.strokeStyle = '#a0a0a0';
    ctx.lineWidth = 1;
    ctx.setLineDash([7, 5]);
    guideX.forEach(v => {
      const px = Math.round(x.getPixelForValue(v)) + 0.5;
      ctx.beginPath();
      ctx.moveTo(px, a.top);
      ctx.lineTo(px, a.bottom);
      ctx.stroke();
    });
    ctx.setLineDash([]);
    // error bars
    if (o.err) {
      const xs = o.side === 'right' ? errXRight : errXLeft;
      const vc = o.err[0];
      for (let i = 0; i < 6; i++) {
        const h = o.err[i + 1];
        const px = Math.round(x.getPixelForValue(xs[i])) + 0.5;
        const y0 = y.getPixelForValue(vc - h), y1 = y.getPixelForValue(vc + h);
        ctx.strokeStyle = errColors[i];
        ctx.beginPath();
        ctx.moveTo(px, y0); ctx.lineTo(px, y1);
        ctx.moveTo(px - 3.5, y0); ctx.lineTo(px + 3.5, y0);
        ctx.moveTo(px - 3.5, y1); ctx.lineTo(px + 3.5, y1);
        ctx.stroke();
      }
    }
    ctx.restore();
  },
  afterDraw(chart) {
    const { ctx, chartArea: a, scales: { x, y } } = chart;
    ctx.save();
    ctx.strokeStyle = '#222';
    ctx.lineWidth = 1;
    const L = Math.round(a.left) + 0.5, R = Math.round(a.right) - 0.5;
    const T = Math.round(a.top) + 0.5, B = Math.round(a.bottom) - 0.5;
    ctx.strokeRect(L, T, R - L, B - T);
    ctx.beginPath();
    x.ticks.forEach(t => {
      const px = Math.round(x.getPixelForValue(t.value)) + 0.5;
      ctx.moveTo(px, B); ctx.lineTo(px, B - 4);
      ctx.moveTo(px, T); ctx.lineTo(px, T + 4);
    });
    y.ticks.forEach(t => {
      const py = Math.round(y.getPixelForValue(t.value)) + 0.5;
      ctx.moveTo(L, py); ctx.lineTo(L + 4, py);
      ctx.moveTo(R, py); ctx.lineTo(R - 4, py);
    });
    ctx.stroke();
    ctx.restore();
  }
};

function buildDatasets(p) {
  const ds = [];
  if (p.bar) {
    ds.push({ data: [{ x: p.bar[0], y: p.bar[2] }, { x: p.bar[1], y: p.bar[2] }], showLine: true,
      borderColor: '#000', borderWidth: 3.5, pointRadius: 0, borderCapStyle: 'butt' });
  }
  if (p.line) {
    ds.push({ data: pts(p.line), showLine: true, borderColor: '#2b2b2b', borderWidth: 0.9,
      pointRadius: p.lineMarks ? 2 : 0, pointStyle: 'circle', pointBackgroundColor: '#fff',
      pointBorderColor: '#2b2b2b', pointBorderWidth: 0.8 });
  }
  if (p.dash && p.dash.length) {
    ds.push({ data: pts(p.dash), showLine: true, borderColor: '#111', borderWidth: 0.9,
      borderDash: [5, 4], pointRadius: 0 });
  }
  const sq = { pointStyle: 'rect', pointRadius: 4.2, pointBackgroundColor: RED, pointBorderWidth: 0 };
  const dot = { pointStyle: 'circle', pointRadius: 3, pointBackgroundColor: GREEN, pointBorderWidth: 0 };
  const st = { pointStyle: star, pointRadius: 4.5, pointBorderWidth: 0 };
  if (p.err) {
    const xs = p.side === 'right' ? errXRight : errXLeft;
    const v = p.err[0];
    ds.push({ data: [{ x: xs[4], y: v }, { x: xs[5], y: v }], ...sq });
    ds.push({ data: [{ x: xs[2], y: v }, { x: xs[3], y: v }], ...dot });
    ds.push({ data: [{ x: xs[0], y: v }, { x: xs[1], y: v }], ...st });
  }
  if (p.red) ds.push({ data: pts(p.red), ...sq });
  if (p.green) ds.push({ data: pts(p.green), ...dot });
  if (p.blue) ds.push({ data: pts(p.blue), ...st });
  return ds;
}

const grid = document.getElementById('grid');
panels.forEach((p, i) => {
  const col = i % 3, row = Math.floor(i / 3);
  const cv = document.createElement('canvas');
  cv.width = 218; cv.height = 118;
  cv.style.width = '218px'; cv.style.height = '118px';
  cv.style.left = Math.round(col * 655 / 3) + 'px';
  cv.style.top = Math.round(row * 824 / 7) + 'px';
  grid.appendChild(cv);

  new Chart(cv, {
    type: 'scatter',
    data: { datasets: buildDatasets(p) },
    options: {
      responsive: false,
      animation: false,
      events: [],
      layout: { padding: { top: 1, right: 9, left: 0, bottom: 0 } },
      plugins: {
        legend: { display: false },
        tooltip: { enabled: false },
        decor: { name: p.name, err: p.err, side: p.side }
      },
      scales: {
        x: {
          type: 'linear', min: -600, max: 600,
          ticks: { stepSize: 200, autoSkip: false, maxRotation: 0, padding: 3, color: '#333',
            font: { size: 8.5, family: FONT }, callback: v => String(v) },
          grid: { display: false, drawTicks: false },
          border: { display: false },
          title: { display: true, text: 'radius [pc]', color: '#444', font: { size: 7.5, family: FONT },
            padding: { top: 0, bottom: 1 } },
          afterFit: s => { s.height = 25; s.paddingLeft = 0; s.paddingRight = 0; }
        },
        y: {
          type: 'linear', min: p.yMin, max: p.yMax,
          afterBuildTicks: hundreds,
          ticks: { autoSkip: false, padding: 3, color: '#333',
            font: { size: 8.5, family: FONT }, callback: v => String(v) },
          grid: { display: false, drawTicks: false },
          border: { display: false },
          title: { display: true, text: 'Velocity [km/s]', color: '#444', font: { size: 6.5, family: FONT },
            padding: { top: 0, bottom: 0 } },
          afterFit: s => { s.width = 33; s.paddingTop = 0; s.paddingBottom = 0; }
        }
      }
    },
    plugins: [decor]
  });
});
</script>
</body>
</html>
